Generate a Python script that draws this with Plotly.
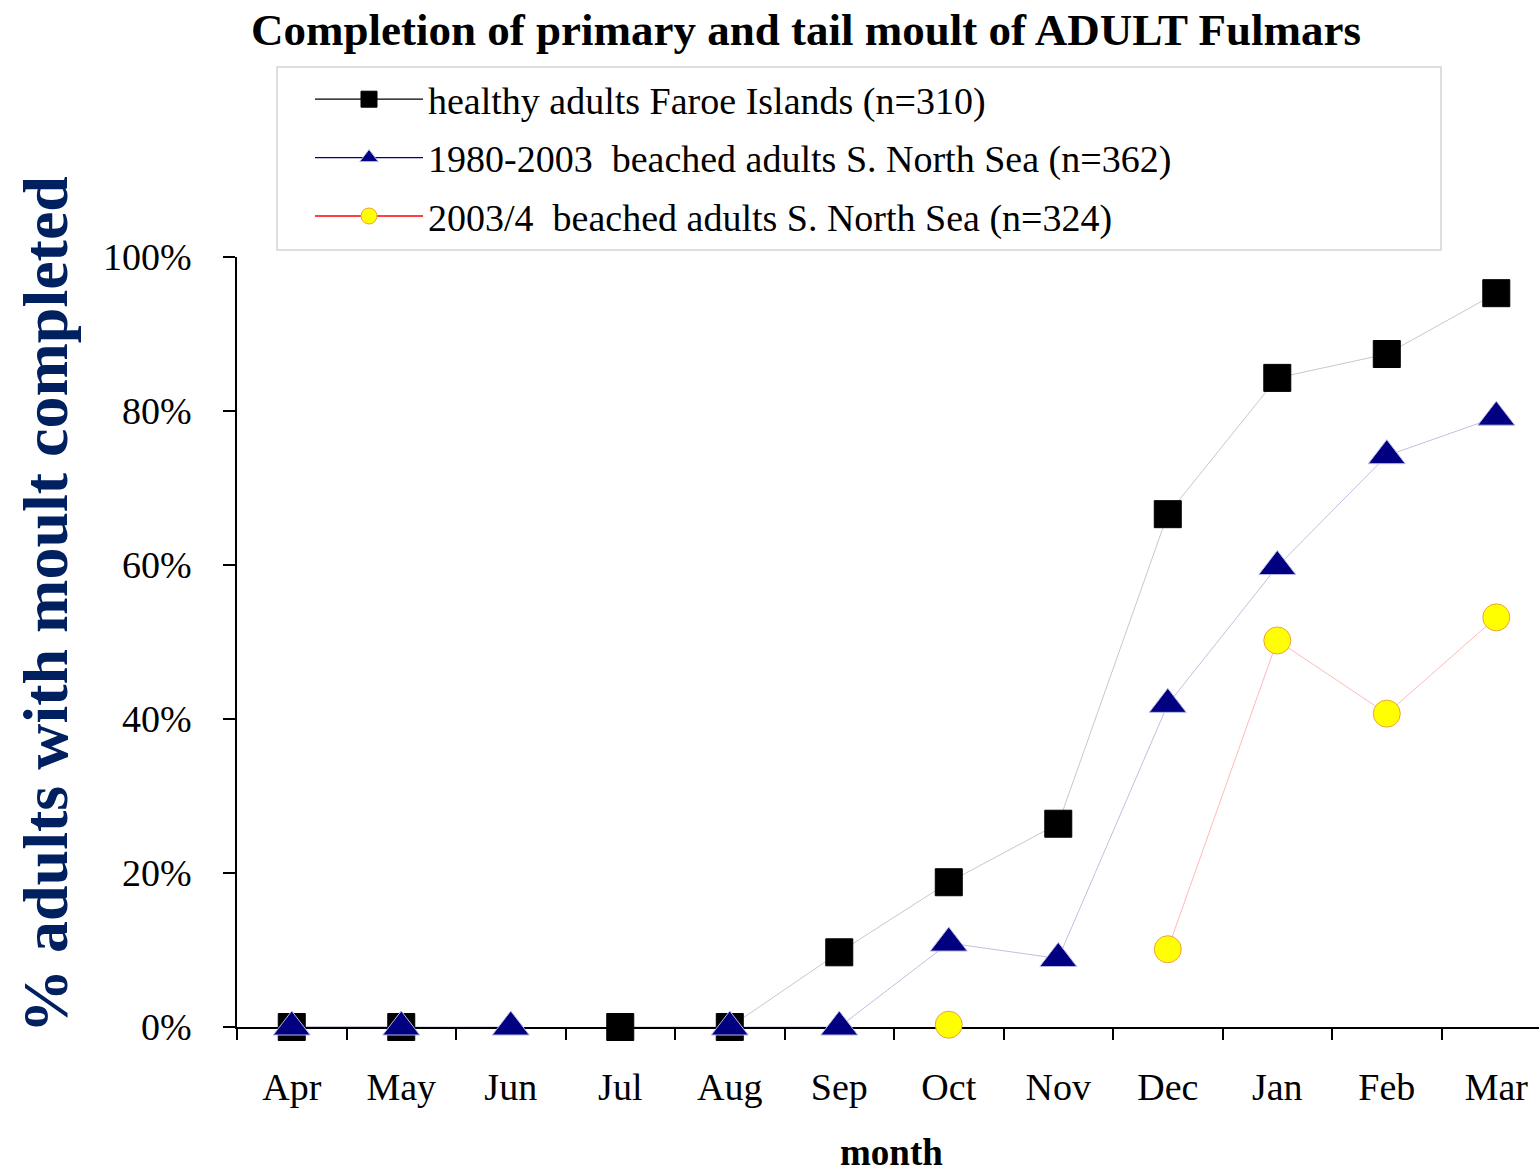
import plotly.graph_objects as go

months = ["Apr", "May", "Jun", "Jul", "Aug", "Sep", "Oct", "Nov", "Dec", "Jan", "Feb", "Mar"]

faroe = [0.0, 0.0, None, 0.0, 0.0, 0.097, 0.188, 0.264, 0.666, 0.843, 0.874, 0.953]
beached_1980_2003 = [0.0, 0.0, 0.0, None, 0.0, 0.0, 0.109, 0.089, 0.419, 0.598, 0.742, 0.792]
beached_2003_4 = [None, None, None, None, None, None, 0.003, None, 0.101, 0.502, 0.407, 0.532]

names = [
    "healthy adults Faroe Islands (n=310)",
    "1980-2003 \u00a0beached adults S. North Sea (n=362)",
    "2003/4 \u00a0beached adults S. North Sea (n=324)",
]

SERIF = "Liberation Serif, Times New Roman, serif"

W, H = 1539, 1172
L, R, T, B = 237, 0, 257, 145
PW, PH = W - L - R, H - T - B


def px_x(p):
    return (p - L) / PW


def px_y(p):
    return (H - B - p) / PH


fig = go.Figure()

styles = [
    dict(data=faroe, symbol="square", size=27, color="black", lc="rgba(0,0,0,0.22)",
         legc="black", mline="black"),
    dict(data=beached_1980_2003, symbol="triangle-up", size=32, color="#000080",
         lc="rgba(0,0,128,0.25)", legc="#000080", mline="#b8b8e8"),
    dict(data=beached_2003_4, symbol="circle", size=27, color="#ffff00",
         lc="rgba(255,0,0,0.28)", legc="#ff0000", mline="#f0a040"),
]

for i, (nm, st) in enumerate(zip(names, styles)):
    # data trace
    fig.add_trace(go.Scatter(
        x=months, y=st["data"], mode="lines+markers", name=nm,
        showlegend=False, cliponaxis=False, connectgaps=False,
        line=dict(color=st["lc"], width=1),
        marker=dict(symbol=st["symbol"], size=st["size"], color=st["color"],
                    line=dict(color=st["mline"], width=1)),
        legendgroup=f"g{i}",
    ))
    # legend entry
    fig.add_trace(go.Scatter(
        x=[None], y=[None], mode="lines+markers", name=nm,
        showlegend=True, legendgroup=f"g{i}",
        line=dict(color=st["legc"], width=1.3),
        marker=dict(symbol=st["symbol"], size=16, color=st["color"],
                    line=dict(color=st["mline"], width=1)),
    ))

fig.update_layout(
    width=W, height=H,
    margin=dict(l=L, r=R, t=T, b=B, pad=0),
    paper_bgcolor="white", plot_bgcolor="white",
    font=dict(family=SERIF, size=38, color="black"),
    title=dict(text="Completion of primary and tail moult of ADULT Fulmars",
               font=dict(family=SERIF, size=45, color="black", weight="bold"),
               x=806 / W, xanchor="center", xref="container",
               y=1 - 29 / H, yanchor="middle", yref="container"),
    showlegend=True,
    legend=dict(x=px_x(310), xanchor="left", y=px_y(68), yanchor="top",
                bgcolor="rgba(0,0,0,0)", borderwidth=0,
                font=dict(family=SERIF, size=38, color="black"),
                itemwidth=108, tracegroupgap=6, traceorder="grouped"),
    xaxis=dict(type="category", categoryorder="array", categoryarray=months,
               range=[-0.5, 11.39], showgrid=False, zeroline=False,
               showline=True, linecolor="black", linewidth=1.5,
               ticks="outside", tickson="boundaries", ticklen=11, tickcolor="black",
               tickwidth=1.5, layer="below traces",
               tickfont=dict(family=SERIF, size=38, color="black"),
               ticklabelstandoff=26),
    yaxis=dict(range=[0, 1], dtick=0.2, tickformat=".0%", showgrid=False,
               zeroline=False, showline=True, linecolor="black", linewidth=1.5,
               ticks="outside", ticklen=12, tickcolor="black", tickwidth=1.5,
               layer="below traces",
               tickfont=dict(family=SERIF, size=38, color="black"),
               ticklabelstandoff=24),
    shapes=[dict(type="rect", xref="paper", yref="paper",
                 x0=px_x(277), x1=px_x(1441), y0=px_y(250), y1=px_y(67),
                 line=dict(color="#d4d4d4", width=1.5), fillcolor="rgba(0,0,0,0)",
                 layer="below")],
    annotations=[
        dict(text="% adults with moult completed", textangle=-90,
             xref="paper", yref="paper", x=px_x(45), y=px_y(605),
             xanchor="center", yanchor="middle", showarrow=False,
             font=dict(family=SERIF, size=64, color="#002060", weight="bold")),
        dict(text="month", xref="paper", yref="paper", x=px_x(891), y=px_y(1152),
             xanchor="center", yanchor="middle", showarrow=False,
             font=dict(family=SERIF, size=37, color="black", weight="bold")),
    ],
)

fig.write_html("out.html", config={"displayModeBar": False},
               post_script="document.body.style.margin='0';")
